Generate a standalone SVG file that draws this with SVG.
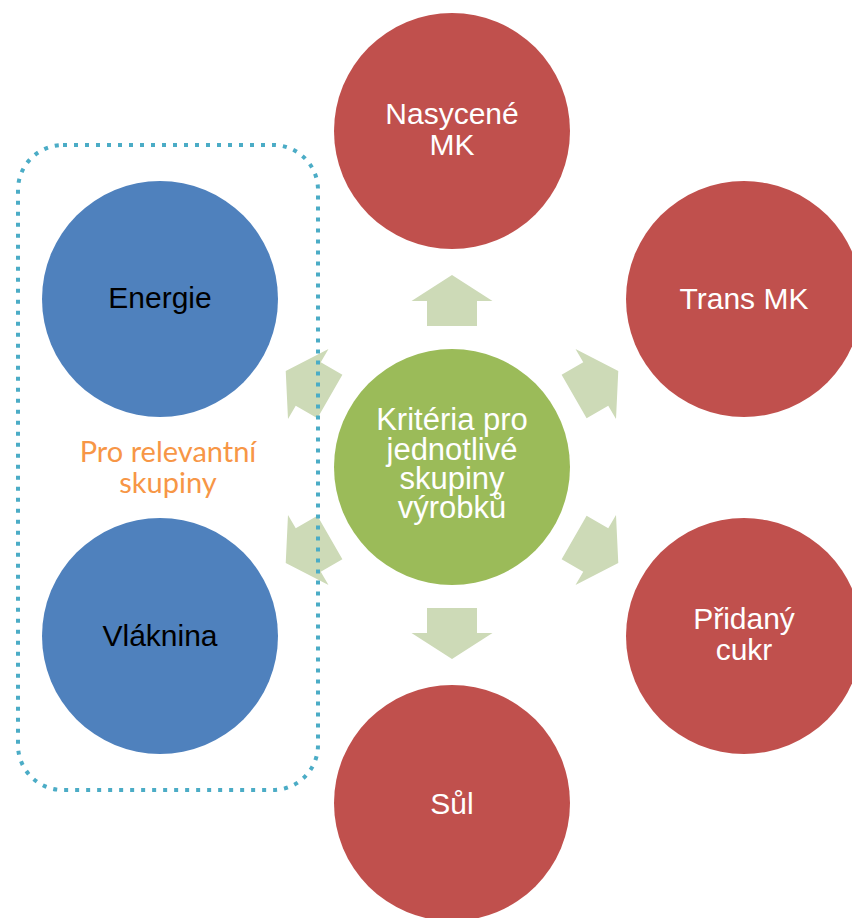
<svg xmlns="http://www.w3.org/2000/svg" xmlns:xlink="http://www.w3.org/1999/xlink" width="852" height="918" viewBox="0 0 852 918">
  <style>
    .red { fill: #C0504D; }
    .blue { fill: #4F81BD; }
    .green { fill: #9BBB59; }
    .arrow { fill: #CDDAB7; }
    .t { font-family: "Liberation Sans", Arial, sans-serif; font-size: 30px; text-anchor: middle; }
    .w { fill: #FFFFFF; }
    .k { fill: #000000; }
    .o { font-family: Lato, "Open Sans", sans-serif; font-size: 29px; fill: #F79646; text-anchor: middle; }
    .frame { fill: none; stroke: #4BACC6; stroke-width: 4; stroke-dasharray: 4 7; }
  </style>
  <defs>
    <polygon id="arr" points="0,-192 40.5,-166 25,-166 25,-141 -25,-141 -25,-166 -40.5,-166"/>
  </defs>
  <rect width="852" height="918" fill="#FFFFFF"/>
  <g id="connectors">
    <use xlink:href="#arr" class="arrow" transform="translate(452,467) rotate(0)"/>
    <use xlink:href="#arr" class="arrow" transform="translate(452,467) rotate(60)"/>
    <use xlink:href="#arr" class="arrow" transform="translate(452,467) rotate(120)"/>
    <use xlink:href="#arr" class="arrow" transform="translate(452,467) rotate(180)"/>
    <use xlink:href="#arr" class="arrow" transform="translate(452,467) rotate(240)"/>
    <use xlink:href="#arr" class="arrow" transform="translate(452,467) rotate(300)"/>
  </g>
  <g id="group-frame">
    <rect class="frame" x="18" y="145" width="300" height="645" rx="45" ry="45"/>
    <text class="o" x="168" y="462">Pro relevantní</text>
    <text class="o" x="168" y="493">skupiny</text>
  </g>
  <g id="center">
    <circle class="green" cx="452" cy="467" r="118"/>
    <text class="t w" x="452" y="430" style="font-size:31px">Kritéria pro</text>
    <text class="t w" x="452" y="460" style="font-size:31px">jednotlivé</text>
    <text class="t w" x="452" y="489" style="font-size:31px">skupiny</text>
    <text class="t w" x="452" y="518" style="font-size:31px">výrobků</text>
  </g>
  <g id="nasycene">
    <circle class="red" cx="452" cy="131" r="118"/>
    <text class="t w" x="452" y="124">Nasycené</text>
    <text class="t w" x="452" y="155">MK</text>
  </g>
  <g id="trans">
    <circle class="red" cx="744" cy="299" r="118"/>
    <text class="t w" x="744" y="309">Trans MK</text>
  </g>
  <g id="cukr">
    <circle class="red" cx="744" cy="636" r="118"/>
    <text class="t w" x="744" y="629">Přidaný</text>
    <text class="t w" x="744" y="660">cukr</text>
  </g>
  <g id="sul">
    <circle class="red" cx="452" cy="803" r="118"/>
    <text class="t w" x="452" y="814">Sůl</text>
  </g>
  <g id="energie">
    <circle class="blue" cx="160" cy="299" r="118"/>
    <text class="t k" x="160" y="308">Energie</text>
  </g>
  <g id="vlaknina">
    <circle class="blue" cx="160" cy="636" r="118"/>
    <text class="t k" x="160" y="646">Vláknina</text>
  </g>
</svg>
